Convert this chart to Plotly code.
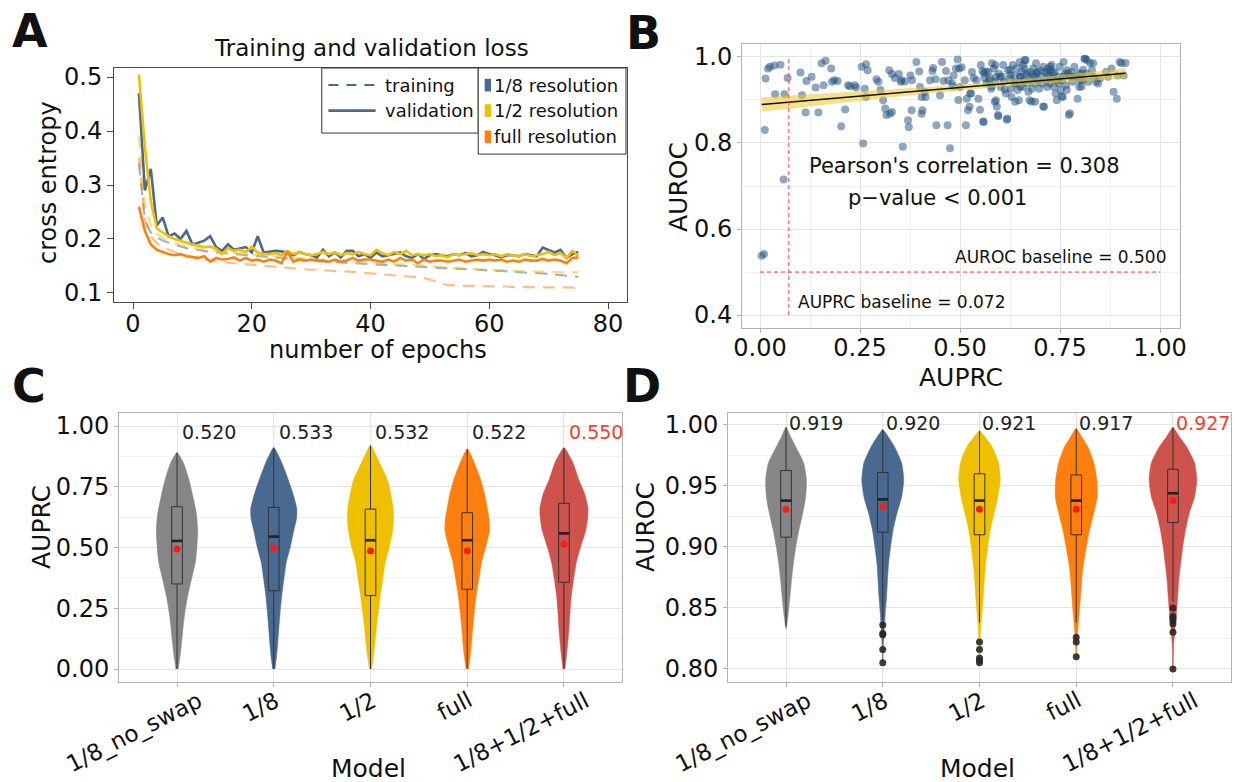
import numpy as np
import plotly.graph_objects as go

FONT = "DejaVu Sans, Liberation Sans, Arial, sans-serif"
INK = "#111111"

# ---------------- colours ----------------
C_GRAY = "#868686"
C_BLUE = "#4A6990"
C_YEL = "#EFC000"
C_ORA = "#FF7F0E"
C_RED = "#CD534C"
C_MEAN = "#FF1A1A"
C_HILITE = "#F5402A"

# ---------------- panel A: loss curves ----------------
epochs = list(range(1, 76))
val_eighth = [0.47, 0.29, 0.33, 0.225, 0.24, 0.205, 0.21, 0.20, 0.215, 0.19,
              0.193, 0.197, 0.205, 0.185, 0.178, 0.19, 0.18, 0.182, 0.185, 0.175,
              0.205, 0.175, 0.176, 0.178, 0.177, 0.175, 0.17, 0.176, 0.172, 0.17,
              0.166, 0.18, 0.168, 0.175, 0.166, 0.178, 0.178, 0.168, 0.172, 0.165,
              0.175, 0.168, 0.17, 0.172, 0.175, 0.168, 0.165, 0.172, 0.163, 0.17,
              0.172, 0.17, 0.168, 0.172, 0.17, 0.174, 0.168, 0.17, 0.176, 0.172,
              0.17, 0.166, 0.17, 0.17, 0.168, 0.172, 0.17, 0.168, 0.184, 0.18,
              0.175, 0.18, 0.165, 0.172, 0.176]
val_half = [0.505, 0.37, 0.27, 0.22, 0.212, 0.205, 0.2, 0.196, 0.193, 0.19,
            0.188, 0.185, 0.186, 0.182, 0.172, 0.183, 0.178, 0.18, 0.176, 0.186,
            0.175, 0.172, 0.172, 0.174, 0.17, 0.178, 0.172, 0.176, 0.172, 0.17,
            0.172, 0.176, 0.172, 0.175, 0.17, 0.174, 0.172, 0.176, 0.172, 0.17,
            0.18, 0.174, 0.17, 0.176, 0.172, 0.178, 0.17, 0.172, 0.17, 0.172,
            0.168, 0.17, 0.166, 0.172, 0.17, 0.172, 0.174, 0.17, 0.172, 0.17,
            0.172, 0.168, 0.172, 0.17, 0.168, 0.172, 0.168, 0.17, 0.172, 0.176,
            0.17, 0.174, 0.165, 0.178, 0.168]
val_full = [0.26, 0.215, 0.19, 0.18, 0.176, 0.172, 0.17, 0.172, 0.168, 0.166,
            0.165, 0.168, 0.158, 0.165, 0.162, 0.163, 0.166, 0.16, 0.165, 0.16,
            0.162, 0.158, 0.162, 0.16, 0.155, 0.176, 0.158, 0.162, 0.16, 0.162,
            0.16, 0.16, 0.158, 0.162, 0.158, 0.16, 0.165, 0.16, 0.162, 0.162,
            0.16, 0.158, 0.162, 0.158, 0.165, 0.16, 0.162, 0.155, 0.162, 0.158,
            0.16, 0.16, 0.158, 0.16, 0.162, 0.158, 0.16, 0.162, 0.16, 0.162,
            0.16, 0.162, 0.158, 0.16, 0.158, 0.162, 0.16, 0.16, 0.163, 0.16,
            0.162, 0.16, 0.155, 0.165, 0.166]
train_eighth = [0.34, 0.235, 0.212, 0.203, 0.197, 0.193, 0.189, 0.186, 0.183, 0.181,
                0.179, 0.177, 0.176, 0.175, 0.174, 0.173, 0.172, 0.171, 0.17, 0.169,
                0.168, 0.167, 0.166, 0.165, 0.164, 0.163, 0.162, 0.161, 0.16, 0.16,
                0.159, 0.158, 0.158, 0.157, 0.156, 0.156, 0.155, 0.155, 0.154, 0.153,
                0.153, 0.152, 0.152, 0.151, 0.15, 0.15, 0.149, 0.149, 0.148, 0.148,
                0.147, 0.146, 0.146, 0.145, 0.145, 0.144, 0.144, 0.143, 0.143, 0.142,
                0.141, 0.141, 0.14, 0.14, 0.139, 0.138, 0.137, 0.137, 0.136, 0.135,
                0.134, 0.133, 0.132, 0.131, 0.13]
train_half = [0.39, 0.265, 0.225, 0.21, 0.202, 0.196, 0.192, 0.189, 0.186, 0.184,
              0.182, 0.18, 0.178, 0.177, 0.176, 0.175, 0.174, 0.173, 0.172, 0.171,
              0.17, 0.169, 0.168, 0.168, 0.167, 0.166, 0.165, 0.165, 0.164, 0.163,
              0.163, 0.162, 0.161, 0.161, 0.16, 0.16, 0.159, 0.158, 0.158, 0.157,
              0.156, 0.156, 0.155, 0.154, 0.153, 0.153, 0.152, 0.151, 0.15, 0.149,
              0.148, 0.147, 0.147, 0.146, 0.146, 0.145, 0.145, 0.144, 0.144, 0.143,
              0.143, 0.142, 0.142, 0.141, 0.141, 0.14, 0.14, 0.14, 0.139, 0.139,
              0.139, 0.138, 0.138, 0.138, 0.138]
train_full = [0.35, 0.235, 0.205, 0.192, 0.185, 0.18, 0.176, 0.172, 0.169, 0.166,
              0.164, 0.162, 0.16, 0.158, 0.157, 0.156, 0.155, 0.154, 0.153, 0.152,
              0.151, 0.15, 0.149, 0.148, 0.147, 0.146, 0.145, 0.145, 0.144, 0.143,
              0.143, 0.142, 0.142, 0.141, 0.14, 0.14, 0.139, 0.138, 0.137, 0.136,
              0.135, 0.134, 0.134, 0.133, 0.132, 0.131, 0.13, 0.13, 0.128, 0.125,
              0.121, 0.117, 0.115, 0.114, 0.114, 0.113, 0.113, 0.113, 0.112, 0.112,
              0.112, 0.112, 0.112, 0.111, 0.111, 0.111, 0.111, 0.111, 0.111, 0.111,
              0.111, 0.111, 0.11, 0.11, 0.11]
resolution_names = ["1/8 resolution", "1/2 resolution", "full resolution"]

# ---------------- panel B: per-target AUPRC vs AUROC ----------------
auprc = [0.004, 0.010, 0.012, 0.014, 0.020, 0.025, 0.036, 0.051, 0.038, 0.061, 0.069, 0.059,
         0.101, 0.105, 0.114, 0.116, 0.129, 0.139, 0.146, 0.154, 0.164, 0.159, 0.178, 0.180,
         0.186, 0.194, 0.203, 0.213, 0.220, 0.225, 0.237, 0.240,
         0.254, 0.265, 0.269, 0.258, 0.262, 0.265, 0.291, 0.296, 0.301, 0.308, 0.313, 0.316,
         0.325, 0.330, 0.323, 0.330, 0.337, 0.347, 0.352, 0.357, 0.370, 0.372, 0.379, 0.404,
         0.406, 0.376, 0.380, 0.391, 0.400, 0.404, 0.414, 0.354, 0.362, 0.398, 0.412,
         0.425, 0.433, 0.431, 0.439, 0.441, 0.450, 0.455, 0.459, 0.465, 0.469, 0.475, 0.480,
         0.484, 0.490, 0.494, 0.498, 0.500, 0.515, 0.517, 0.520, 0.524, 0.528, 0.530, 0.534,
         0.541, 0.546, 0.552, 0.556, 0.559, 0.561, 0.471, 0.483, 0.504, 0.512, 0.496, 0.525,
         0.550, 0.560, 0.565, 0.572, 0.579, 0.558, 0.588, 0.590, 0.600, 0.587, 0.596, 0.617,
         0.612, 0.625, 0.626, 0.638, 0.637, 0.650, 0.651, 0.658, 0.662,
         0.566, 0.571, 0.575, 0.578, 0.580, 0.585, 0.588, 0.590, 0.592, 0.595, 0.598, 0.602,
         0.605, 0.608, 0.610, 0.615, 0.618, 0.620, 0.625, 0.627, 0.629, 0.632, 0.637, 0.639,
         0.641, 0.644, 0.647, 0.649, 0.651, 0.654, 0.657, 0.659, 0.661, 0.664, 0.667, 0.669,
         0.671, 0.674, 0.676, 0.678, 0.680, 0.683, 0.686, 0.688, 0.690, 0.693, 0.696, 0.698,
         0.700, 0.703, 0.706, 0.708, 0.710, 0.713, 0.716, 0.718, 0.720, 0.723, 0.725, 0.727,
         0.729, 0.732, 0.735, 0.737, 0.739, 0.742, 0.745, 0.747, 0.749, 0.752, 0.755, 0.757,
         0.759, 0.762, 0.765, 0.767, 0.775, 0.778, 0.782, 0.786, 0.791,
         0.667, 0.679, 0.688, 0.683, 0.692, 0.717, 0.725, 0.733, 0.742, 0.758, 0.771, 0.783,
         0.796, 0.708, 0.754, 0.767, 0.775, 0.800, 0.804, 0.813, 0.817, 0.833, 0.808, 0.804,
         0.850, 0.865, 0.870, 0.879, 0.884, 0.892, 0.894, 0.899, 0.904, 0.909, 0.914, 0.845,
         0.840, 0.835, 0.830, 0.825, 0.821, 0.811, 0.816, 0.772, 0.794, 0.798, 0.806]
auroc = [0.538, 0.542, 0.830, 0.950, 0.973, 0.977, 0.980, 0.982, 0.913, 0.913, 0.951, 0.715,
         0.964, 0.911, 0.871, 0.944, 0.954, 0.929, 0.871, 0.985, 0.991, 0.934, 0.973, 0.942,
         0.946, 0.944, 0.839, 0.878, 0.934, 0.932, 0.934, 0.929,
         0.977, 0.983, 0.969, 0.799, 0.926, 0.907, 0.948, 0.942, 0.923, 0.899, 0.880, 0.865,
         0.868, 0.872, 0.969, 0.960, 0.951, 0.960, 0.942, 0.791, 0.853, 0.837, 0.876, 0.868,
         0.876, 0.957, 0.946, 0.988, 0.930, 0.907, 0.907, 0.946, 0.943, 0.966, 0.919,
         0.946, 0.974, 0.967, 0.948, 0.841, 0.911, 0.988, 0.944, 0.967, 0.841, 0.788, 0.938,
         0.957, 0.973, 0.994, 0.973, 0.930, 0.841, 0.903, 0.876, 0.884, 0.915, 0.965, 0.951,
         0.946, 0.903, 0.981, 0.967, 0.849, 0.951, 0.946, 0.931, 0.976, 0.946, 0.900, 0.915,
         0.877, 0.962, 0.966, 0.946, 0.931, 0.850, 0.981, 0.954, 0.954, 0.896, 0.862, 0.854,
         0.924, 0.970, 0.958, 0.896, 0.939, 0.954, 0.931, 0.981, 0.993,
         0.938, 0.965, 0.950, 0.926, 0.985, 0.973, 0.942, 0.899, 0.884, 0.865, 0.961, 0.930,
         0.954, 0.981, 0.942, 0.915, 0.857, 0.969, 0.950, 0.926, 0.907, 0.981, 0.957, 0.938,
         0.973, 0.923, 0.899, 0.988, 0.954, 0.965, 0.930, 0.946, 0.973, 0.992, 0.957, 0.938,
         0.919, 0.899, 0.965, 0.946, 0.926, 0.973, 0.954, 0.938, 0.985, 0.965, 0.946, 0.926,
         0.969, 0.954, 0.938, 0.977, 0.884, 0.965, 0.946, 0.930, 0.973, 0.957, 0.938, 0.969,
         0.981, 0.950, 0.930, 0.965, 0.915, 0.899, 0.954, 0.938, 0.977, 0.923, 0.946, 0.907,
         0.988, 0.961, 0.934, 0.969, 0.954, 0.965, 0.942, 0.977, 0.954,
         0.962, 0.896, 0.896, 0.958, 0.962, 0.962, 0.977, 0.962, 0.946, 0.954, 0.962, 0.954,
         0.962, 0.885, 0.908, 0.923, 0.869, 0.946, 0.962, 0.996, 0.993, 0.985, 0.970, 0.931,
         0.950, 0.965, 0.954, 0.973, 0.919, 0.903, 0.957, 0.988, 0.985, 0.957, 0.986, 0.938,
         0.942, 0.954, 0.969, 0.985, 0.942, 0.996, 0.961, 0.865, 0.903, 0.930, 0.946]
auprc_baseline = 0.072
auroc_baseline = 0.500
pearson_r = 0.308

# ---------------- panels C & D: per-model distributions ----------------
models = ["1/8_no_swap", "1/8", "1/2", "full", "1/8+1/2+full"]
model_colors = [C_GRAY, C_BLUE, C_YEL, C_ORA, C_RED]

# AUPRC violin outlines: levels and half-widths (category units)
auprc_violin_y = [
    [0, .05, .1, .16, .23, .3, .37, .44, .5, .57, .64, .7, .78, .85, .89],
    [0, .05, .1, .16, .23, .3, .37, .44, .5, .57, .62, .66, .72, .78, .85, .91],
    [0, .05, .1, .16, .23, .3, .37, .44, .5, .57, .62, .66, .72, .78, .85, .92],
    [0, .05, .1, .16, .23, .3, .37, .44, .5, .57, .62, .66, .72, .78, .85, .905],
    [0, .05, .1, .16, .23, .3, .37, .44, .5, .57, .62, .66, .72, .78, .85, .91],
]
auprc_violin_w = [
    [.012, .03, .045, .06, .08, .11, .15, .19, .205, .214, .20, .17, .123, .065, .005],
    [.012, .028, .04, .051, .065, .082, .105, .13, .17, .207, .236, .238, .20, .149, .082, .005],
    [.012, .03, .045, .059, .08, .102, .128, .153, .194, .229, .239, .235, .21, .174, .092, .005],
    [.012, .03, .043, .055, .072, .092, .12, .149, .19, .231, .225, .208, .18, .139, .072, .005],
    [.01, .025, .038, .051, .062, .076, .1, .129, .17, .225, .245, .249, .215, .153, .092, .005],
]
auprc_q1 = [0.350, 0.322, 0.302, 0.328, 0.357]
auprc_median = [0.527, 0.545, 0.530, 0.530, 0.558]
auprc_q3 = [0.668, 0.665, 0.658, 0.643, 0.682]
auprc_low = [0.0, 0.0, 0.0, 0.0, 0.0]
auprc_high = [0.89, 0.91, 0.92, 0.905, 0.91]
auprc_mean = [0.494, 0.498, 0.487, 0.487, 0.514]
auprc_labels = ["0.520", "0.533", "0.532", "0.522", "0.550"]

# AUROC violin outlines
auroc_violin_y = [
    [.833, .846, .859, .873, .887, .900, .914, .928, .941, .955, .969, .982, .99, .998],
    [.805, .818, .831, .846, .859, .873, .887, .900, .914, .928, .941, .955, .969, .982, .99, .996],
    [.805, .82, .833, .846, .859, .873, .887, .900, .914, .928, .941, .955, .969, .982, .99, .995],
    [.81, .82, .833, .846, .859, .873, .887, .900, .914, .928, .941, .955, .969, .982, .99, .997],
    [.80, .82, .833, .846, .859, .873, .887, .900, .914, .928, .941, .955, .969, .982, .99, .998],
]
auroc_violin_w = [
    [.003, .024, .04, .057, .077, .101, .134, .174, .203, .211, .182, .101, .05, .004],
    [.002, .006, .014, .026, .039, .049, .061, .081, .107, .148, .195, .217, .195, .122, .06, .004],
    [.002, .006, .012, .026, .039, .05, .065, .085, .112, .152, .19, .215, .197, .132, .06, .004],
    [.002, .008, .018, .032, .045, .057, .077, .105, .138, .182, .217, .213, .182, .122, .06, .004],
    [.002, .008, .02, .036, .049, .061, .081, .101, .13, .17, .223, .247, .223, .142, .07, .004],
]
auroc_q1 = [0.908, 0.912, 0.910, 0.910, 0.920]
auroc_median = [0.938, 0.939, 0.938, 0.938, 0.944]
auroc_q3 = [0.9626, 0.961, 0.960, 0.959, 0.9637]
auroc_low = [0.835, 0.840, 0.838, 0.838, 0.855]
auroc_high = [0.998, 0.996, 0.995, 0.997, 0.998]
auroc_mean = [0.931, 0.933, 0.931, 0.931, 0.938]
auroc_outliers = [
    [],
    [0.836, 0.829, 0.828, 0.816, 0.805],
    [0.822, 0.816, 0.809, 0.807, 0.805],
    [0.826, 0.822, 0.810],
    [0.850, 0.843, 0.8415, 0.840, 0.837, 0.830, 0.800],
]
auroc_labels = ["0.919", "0.920", "0.921", "0.917", "0.927"]
best_model = 4

# ---------------- figure ----------------
W, H = 1235, 782
TICK_SIZE = 24
CAT_SIZE = 23
LABEL_ANGLE = 27


def px_x(p):
    return p / W


def px_y(p):
    return 1 - p / H


# approximate DejaVu Sans advance widths (em) for the rotated category labels
GLYPH_EM = {"1": .636, "2": .636, "8": .636, "/": .337, "_": .5, "n": .634, "o": .612,
            "s": .521, "w": .818, "a": .613, "p": .635, "+": .838, "f": .352, "u": .634,
            "l": .278}


def label_len(s, size):
    return sum(GLYPH_EM.get(c, 0.6) for c in s) * size


fig = go.Figure()

# panel A traces: dashed training curves underneath solid validation curves
res_colors = [C_BLUE, C_YEL, C_ORA]
train_series = [train_eighth, train_half, train_full]
val_series = [val_eighth, val_half, val_full]
for col, tr in zip(res_colors, train_series):
    fig.add_trace(go.Scatter(x=epochs, y=tr, mode="lines", xaxis="x", yaxis="y",
                             line=dict(color=col, width=2.2, dash="12px,8px"),
                             opacity=0.5, showlegend=False, hoverinfo="skip"))
for col, va in zip(res_colors, val_series):
    fig.add_trace(go.Scatter(x=epochs, y=va, mode="lines", xaxis="x", yaxis="y",
                             line=dict(color=col, width=2.6),
                             showlegend=False, hoverinfo="skip"))

# panel B traces: points, linear fit with 95% band, baselines
xa = np.array(auprc)
ya = np.array(auroc)
slope, intercept = np.polyfit(xa, ya, 1)
xs = np.linspace(xa.min(), xa.max(), 60)
fit = intercept + slope * xs
resid = ya - (intercept + slope * xa)
n = len(xa)
s_err = np.sqrt(np.sum(resid ** 2) / (n - 2))
se = s_err * np.sqrt(1 / n + (xs - xa.mean()) ** 2 / np.sum((xa - xa.mean()) ** 2))
band = 1.97 * se

fig.add_trace(go.Scatter(x=xa, y=ya, mode="markers", xaxis="x2", yaxis="y2",
                         marker=dict(size=8, color="rgba(30,80,125,0.5)", line=dict(width=0)),
                         showlegend=False, hoverinfo="skip"))
fig.add_trace(go.Scatter(x=xs, y=fit + band, mode="lines", xaxis="x2", yaxis="y2",
                         line=dict(width=0), showlegend=False, hoverinfo="skip"))
fig.add_trace(go.Scatter(x=xs, y=fit - band, mode="lines", xaxis="x2", yaxis="y2",
                         line=dict(width=0), fill="tonexty",
                         fillcolor="rgba(239,200,40,0.55)", showlegend=False, hoverinfo="skip"))
fig.add_trace(go.Scatter(x=xs, y=fit, mode="lines", xaxis="x2", yaxis="y2",
                         line=dict(color="#111111", width=1.6), showlegend=False, hoverinfo="skip"))
fig.add_trace(go.Scatter(x=[auprc_baseline, auprc_baseline], y=[0.4, ya.max()], mode="lines",
                         xaxis="x2", yaxis="y2", line=dict(color="#FF3B3B", width=1, dash="4px,3px"),
                         showlegend=False, hoverinfo="skip"))
fig.add_trace(go.Scatter(x=[0, 1], y=[auroc_baseline, auroc_baseline], mode="lines",
                         xaxis="x2", yaxis="y2", line=dict(color="#FF3B3B", width=1, dash="4px,3px"),
                         showlegend=False, hoverinfo="skip"))

BOX_HALF = 0.055


def add_violins(xax, yax, vys, vws, q1, med, q3, lo, hi, mean, outliers=None):
    for i, (vy, vw) in enumerate(zip(vys, vws)):
        px_ = [i + w for w in vw] + [i - w for w in vw[::-1]]
        py_ = list(vy) + list(vy[::-1])
        fig.add_trace(go.Scatter(x=px_, y=py_, mode="lines", fill="toself",
                                 fillcolor=model_colors[i], xaxis=xax, yaxis=yax,
                                 line=dict(color=model_colors[i], width=0.5, shape="spline",
                                           smoothing=0.6),
                                 showlegend=False, hoverinfo="skip"))
    # box outlines and whiskers
    bx, by = [], []
    for i in range(len(models)):
        bx += [i - BOX_HALF, i + BOX_HALF, i + BOX_HALF, i - BOX_HALF, i - BOX_HALF, None,
               i, i, None, i, i, None]
        by += [q1[i], q1[i], q3[i], q3[i], q1[i], None,
               lo[i], q1[i], None, q3[i], hi[i], None]
    fig.add_trace(go.Scatter(x=bx, y=by, mode="lines", xaxis=xax, yaxis=yax,
                             line=dict(color="#333333", width=1),
                             showlegend=False, hoverinfo="skip"))
    mx, my = [], []
    for i, m in enumerate(med):
        mx += [i - BOX_HALF, i + BOX_HALF, None]
        my += [m, m, None]
    fig.add_trace(go.Scatter(x=mx, y=my, mode="lines", xaxis=xax, yaxis=yax,
                             line=dict(color="#222222", width=2.6),
                             showlegend=False, hoverinfo="skip"))
    if outliers:
        ox, oy = [], []
        for i, vals in enumerate(outliers):
            ox += [i] * len(vals)
            oy += vals
        fig.add_trace(go.Scatter(x=ox, y=oy, mode="markers", xaxis=xax, yaxis=yax,
                                 marker=dict(size=7, color="rgba(40,40,40,0.9)"),
                                 showlegend=False, hoverinfo="skip"))
    fig.add_trace(go.Scatter(x=list(range(len(models))), y=mean, mode="markers",
                             xaxis=xax, yaxis=yax, marker=dict(size=7, color=C_MEAN),
                             showlegend=False, hoverinfo="skip"))


add_violins("x3", "y3", auprc_violin_y, auprc_violin_w, auprc_q1, auprc_median, auprc_q3,
            auprc_low, auprc_high, auprc_mean)
add_violins("x4", "y4", auroc_violin_y, auroc_violin_w, auroc_q1, auroc_median, auroc_q3,
            auroc_low, auroc_high, auroc_mean, auroc_outliers)

# ---------------- axes ----------------
tick_font = dict(family=FONT, size=TICK_SIZE, color=INK)
light_axis = dict(showline=True, mirror=True, linecolor="#B3B3B3", linewidth=1,
                  ticks="outside", ticklen=4, tickcolor="#B3B3B3", tickfont=tick_font,
                  gridcolor="#E4E4E4", gridwidth=1, zeroline=False, automargin=False)

axA = dict(showline=True, mirror=True, linecolor="#4a4a4a", linewidth=1, ticks="outside",
           ticklen=6, tickcolor="#4a4a4a", tickfont=tick_font, showgrid=False, zeroline=False,
           automargin=False)

layout = dict(
    width=W, height=H, margin=dict(l=0, r=0, t=0, b=0, pad=0), autosize=False,
    paper_bgcolor="white", plot_bgcolor="white", showlegend=False,
    font=dict(family=FONT, color=INK),
    xaxis=dict(axA, domain=[px_x(114), px_x(627)], anchor="y", range=[-3.2, 83.2],
               tickmode="array", tickvals=[0, 20, 40, 60, 80], ticklabelstandoff=-6),
    yaxis=dict(axA, domain=[px_y(302), px_y(68)], anchor="x", range=[0.0833, 0.5167],
               tickmode="array", tickvals=[0.1, 0.2, 0.3, 0.4, 0.5]),
    xaxis2=dict(light_axis, domain=[px_x(742), px_x(1180)], anchor="y2", range=[-0.045, 1.05],
                tickmode="array", tickvals=[0, 0.25, 0.5, 0.75, 1.0],
                ticktext=["0.00", "0.25", "0.50", "0.75", "1.00"], ticklabelstandoff=-6,
                minor=dict(tickvals=[0.125, 0.375, 0.625, 0.875], showgrid=True,
                           gridcolor="#F1F1F1", ticks="")),
    yaxis2=dict(light_axis, domain=[px_y(328), px_y(44)], anchor="x2", range=[0.37, 1.03],
                tickmode="array", tickvals=[0.4, 0.6, 0.8, 1.0],
                ticktext=["0.4", "0.6", "0.8", "1.0"],
                minor=dict(tickvals=[0.5, 0.7, 0.9], showgrid=True, gridcolor="#F1F1F1", ticks="")),
    xaxis3=dict(light_axis, domain=[px_x(119), px_x(622)], anchor="y3", range=[-0.6, 4.6],
                tickmode="array", tickvals=list(range(5)), showticklabels=False),
    yaxis3=dict(light_axis, domain=[px_y(682), px_y(413)], anchor="x3", range=[-0.0535, 1.0535],
                tickmode="array", tickvals=[0, 0.25, 0.5, 0.75, 1.0],
                ticktext=["0.00", "0.25", "0.50", "0.75", "1.00"],
                minor=dict(tickvals=[0.125, 0.375, 0.625, 0.875], showgrid=True,
                           gridcolor="#F1F1F1", ticks="")),
    xaxis4=dict(light_axis, domain=[px_x(728), px_x(1231)], anchor="y4", range=[-0.6, 4.6],
                tickmode="array", tickvals=list(range(5)), showticklabels=False),
    yaxis4=dict(light_axis, domain=[px_y(682), px_y(413)], anchor="x4", range=[0.7893, 1.0098],
                tickmode="array", tickvals=[0.80, 0.85, 0.90, 0.95, 1.00],
                ticktext=["0.80", "0.85", "0.90", "0.95", "1.00"],
                minor=dict(tickvals=[0.825, 0.875, 0.925, 0.975], showgrid=True,
                           gridcolor="#F1F1F1", ticks="")),
)
fig.update_layout(**layout)

annotations = []


def txt(x, y, text, size, xref="paper", yref="paper", xanchor="center", yanchor="middle",
        color=INK, angle=0, xshift=0):
    annotations.append(dict(x=x, y=y, xref=xref, yref=yref, text=text, showarrow=False,
                            xanchor=xanchor, yanchor=yanchor, textangle=angle, xshift=xshift,
                            font=dict(family=FONT, size=size, color=color)))


# panel letters
for letter, (lx, ly) in zip("ABCD", [(30, 31), (643, 33), (29, 386), (642, 386)]):
    txt(px_x(lx), px_y(ly), f"<b>{letter}</b>", 46)

# panel A title, axis titles
txt(px_x(371), px_y(48), "Training and validation loss", 23)
txt(px_x(48), px_y(183), "cross entropy", 24, angle=-90)
txt(px_x(378), px_y(350), "number of epochs", 24)

# panel B text
txt(px_x(679), px_y(187), "AUROC", 25, angle=-90)
txt(px_x(961), px_y(377), "AUPRC", 25)
txt(0.512, 0.747, f"Pearson's correlation = {pearson_r:.3f}", 21, xref="x2", yref="y2")
txt(0.443, 0.671, "p\u2212value < 0.001", 21, xref="x2", yref="y2")
txt(1.02, auroc_baseline + 0.034, f"AUROC baseline = {auroc_baseline:.3f}", 17,
    xref="x2", yref="y2", xanchor="right")
txt(auprc_baseline + 0.018, 0.431, f"AUPRC baseline = {auprc_baseline:.3f}", 17,
    xref="x2", yref="y2", xanchor="left")

# panels C, D axis titles
txt(px_x(41), px_y(527), "AUPRC", 25, angle=-90)
txt(px_x(368), px_y(768), "Model", 25)
txt(px_x(645), px_y(527), "AUROC", 25, angle=-90)
txt(px_x(977), px_y(768), "Model", 25)

# rotated category labels under C and D, right ends hanging just past each tick
for xax in ("x3", "x4"):
    for i, name in enumerate(models):
        shift = 5 + 0.18 * label_len(name, CAT_SIZE)
        txt(i, px_y(684), name, CAT_SIZE, xref=xax, yref="paper", xanchor="right",
            yanchor="top", angle=-LABEL_ANGLE, xshift=shift)

# value labels above violins
for i, lab in enumerate(auprc_labels):
    txt(i + 0.33, 0.975, lab, 19, xref="x3", yref="y3",
        color=C_HILITE if i == best_model else "#222222")
for i, lab in enumerate(auroc_labels):
    txt(i + 0.31, 1.0016, lab, 19, xref="x4", yref="y4",
        color=C_HILITE if i == best_model else "#222222")

# panel A legends (two framed blocks in the top right corner)
shapes = []
shapes.append(dict(type="rect", xref="x domain", yref="y domain", x0=0.405, x1=0.710,
                   y0=0.722, y1=1.0, line=dict(color="#333333", width=1), fillcolor="white",
                   layer="above"))
shapes.append(dict(type="rect", xref="x domain", yref="y domain", x0=0.710, x1=0.998,
                   y0=0.632, y1=1.0, line=dict(color="#333333", width=1), fillcolor="white",
                   layer="above"))
shapes.append(dict(type="line", xref="x domain", yref="y domain", x0=0.418, x1=0.51,
                   y0=0.927, y1=0.927, line=dict(color=C_BLUE, width=2, dash="10px,8px"),
                   layer="above"))
shapes.append(dict(type="line", xref="x domain", yref="y domain", x0=0.418, x1=0.51,
                   y0=0.818, y1=0.818, line=dict(color=C_BLUE, width=2.6), layer="above"))
legend_rows = [0.927, 0.818, 0.706]
for col, yy in zip(res_colors, legend_rows):
    shapes.append(dict(type="rect", xref="x domain", yref="y domain", x0=0.7225, x1=0.735,
                       y0=yy - 0.027, y1=yy + 0.027, line=dict(width=0), fillcolor=col,
                       layer="above"))
txt(0.524, 0.927, "training", 18, xref="x domain", yref="y domain", xanchor="left")
txt(0.524, 0.818, "validation", 18, xref="x domain", yref="y domain", xanchor="left")
for name, yy in zip(resolution_names, legend_rows):
    txt(0.737, yy, name, 18, xref="x domain", yref="y domain", xanchor="left")

fig.update_layout(annotations=annotations, shapes=shapes)
fig.write_html("out.html")
